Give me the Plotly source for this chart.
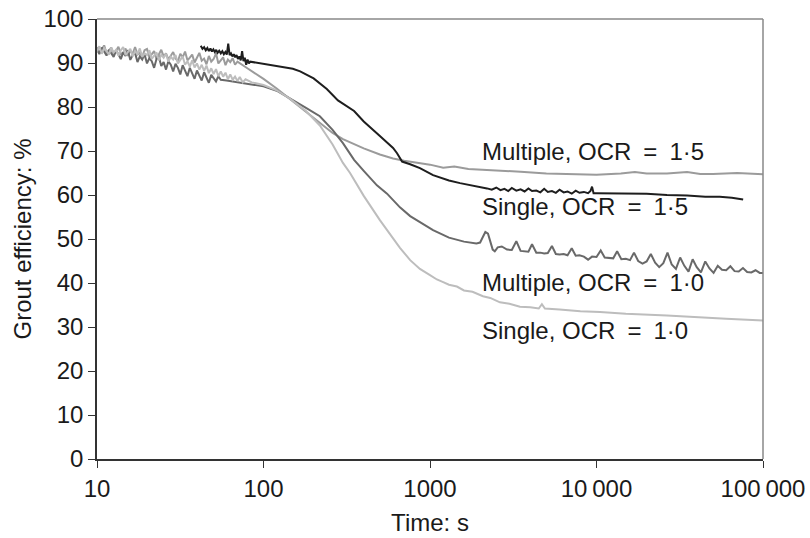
import numpy as np
import plotly.graph_objects as go

# ---------------- data ----------------
# shared sampling times of the noisy early-time part (s)
noise_t = [10, 10.33, 10.68, 11.04, 11.41, 11.79, 12.18, 12.59, 13.01, 13.45, 13.9, 14.36,
           14.84, 15.34, 15.85, 16.38, 16.93, 17.5, 18.08, 18.69, 19.31, 19.96, 20.63, 21.32,
           22.03, 22.77, 23.53, 24.32, 25.13, 25.97, 26.84, 27.74, 28.67, 29.63, 30.62, 31.64,
           32.7, 33.8, 34.93, 36.1, 37.3, 38.55, 39.84, 41.18, 42.55, 43.98, 45.45, 46.97,
           48.54, 50.17, 51.85, 53.58, 55.37, 57.23, 59.14, 61.12, 63.16, 65.28, 67.46, 69.72]

# Multiple, OCR = 1.5 (mid grey)
mult15_noise_v = [93.6, 92.4, 93.1, 94.0, 92.2, 92.9, 93.5, 91.8, 92.6, 93.7,
                  92.0, 92.4, 93.3, 91.6, 92.8, 92.1, 93.6, 91.9, 92.3, 91.4,
                  92.9, 93.2, 91.3, 92.0, 92.7, 90.9, 91.8, 93.0, 91.5, 92.2,
                  90.8, 91.7, 92.5, 91.0, 90.4, 92.1, 91.3, 92.6, 90.6, 91.2,
                  91.9, 90.1, 91.4, 92.3, 90.5, 91.0, 89.7, 91.6, 90.3, 90.9,
                  92.2, 89.9, 90.6, 91.3, 89.5, 90.8, 90.2, 91.1, 89.6, 90.3]
mult15_t = [80, 90, 100, 120, 150, 180, 218, 260, 300, 331, 400, 500, 600, 700, 850, 1000,
            1200, 1400, 1700, 2000, 2630, 3500, 5000, 7000, 10000, 14000, 17000, 20000, 26500,
            35000, 42000, 50000, 70000, 100000]
mult15_v = [88.8, 87.6, 86.4, 84.2, 81.3, 78.9, 76.5, 74.1, 72.7, 72.0, 70.6, 69.2, 68.3,
            67.8, 67.3, 66.9, 66.2, 66.5, 65.9, 65.8, 65.6, 65.3, 64.9, 64.7, 64.6, 64.9, 65.2,
            64.9, 64.9, 65.2, 64.8, 64.8, 65.0, 64.7]

# Single, OCR = 1.5 (black)
sing15_t = [42, 43, 44, 45, 46, 47, 48, 49, 50, 51, 52, 53, 54.2, 55.4, 56.6, 57.8, 59, 60.2,
            61.4, 62.6, 63.8, 65, 66.3, 67.6, 68.9, 70.2, 71.6, 73, 74.4, 75.8, 77.2, 78.7,
            80.2, 81.7, 83.2,
            100, 125, 150, 166, 200, 240, 280, 350, 400, 500, 600, 634, 680, 760, 870, 1043,
            1300, 1515, 2080,
            2200, 2350, 2500, 2650, 2800, 2950, 3100, 3300, 3500, 3700, 3900, 4100, 4350, 4600,
            4850, 5100, 5400, 5700, 6000, 6350, 6700, 7100, 7500, 7900, 8400, 8900, 9200, 9400,
            9600,
            10000, 12000, 15000, 20000, 26500, 35000, 45000, 55000, 65000, 76000]
sing15_v = [93.9, 93.2, 93.6, 92.9, 93.4, 92.7, 93.3, 92.6, 93.1, 92.5,
            93.0, 92.3, 92.8, 92.2, 92.7, 92.0, 92.5, 91.9, 94.4, 91.8,
            92.2, 91.5, 92.0, 91.3, 91.8, 90.9, 91.5, 90.6, 92.7, 90.4,
            91.2, 89.6, 90.8, 89.9, 90.3,
            89.8, 89.3, 88.7, 88.1, 86.5, 84.1, 81.5, 79.1, 76.7, 73.4, 70.7, 69.5, 67.6, 67.0,
            66.1, 64.5, 63.3, 62.7, 61.8,
            61.5, 61.2, 61.7, 61.1, 61.4, 60.9, 61.6, 61.0, 61.3, 60.8, 61.5, 60.9, 61.0, 60.6,
            61.4, 60.7, 60.9, 60.5, 61.2, 60.6, 60.8, 60.3, 61.0, 60.5, 60.7, 60.4, 60.9, 61.9,
            60.4,
            60.4, 60.4, 60.4, 60.3, 60.0, 59.9, 59.6, 59.6, 59.4, 59.0]

# Multiple, OCR = 1.0 (dark grey)
mult10_noise_v = [93.2, 92.0, 93.5, 92.6, 91.7, 93.0, 92.3, 91.4, 92.8, 92.0,
                  90.9, 92.4, 91.6, 92.9, 90.7, 91.8, 92.3, 90.2, 91.5, 90.8,
                  92.0, 89.9, 91.1, 90.4, 88.9, 90.9, 91.4, 89.3, 90.2, 88.5,
                  90.4, 89.6, 88.1, 89.8, 88.9, 87.4, 89.5, 88.4, 87.0, 88.9,
                  87.6, 86.4, 88.3, 87.1, 86.0, 87.9, 86.6, 85.5, 87.3, 86.4,
                  85.8, 87.0, 86.2]
mult10_t = [60, 70, 85, 100, 120, 144, 180, 218, 260, 300, 350, 400, 480, 552, 660, 760, 870,
            1043, 1300, 1600, 1900, 2000, 2080, 2150, 2230, 2300, 2380, 2450, 2550, 2700,
            2900, 3100, 3300, 3500, 3700, 3900, 4100, 4350, 4600, 4850, 5100, 5400, 5700,
            6000, 6350, 6700, 7100, 7500, 7900, 8400, 8900, 9400, 10000, 10600, 11200, 11900,
            12600, 13300, 14100, 15000, 15900, 16800, 17800, 18900, 20000, 21200, 22500,
            23800, 25200, 26700, 28300, 30000, 31800, 33700, 35700, 37800, 40000, 42400,
            45000, 47700, 50500, 53500, 56700, 60100, 63700, 67500, 71500, 75800, 80300,
            85100, 90200, 95600, 100000]
mult10_v = [86.0, 85.6, 85.1, 84.7, 83.7, 82.0, 79.8, 77.9, 74.8, 71.8, 68.0, 65.5, 62.2,
            60.3, 57.2, 55.2, 53.8, 52.0, 50.3, 49.4, 49.0, 49.2, 50.5, 51.6, 51.2, 49.4, 47.6,
            47.2, 48.1, 48.3,
            47.6, 47.5, 49.5, 47.3, 47.2, 47.1, 48.8, 46.9, 46.9, 46.7, 46.8, 48.4, 46.6,
            46.5, 46.6, 46.3, 47.9, 46.2, 46.3, 46.0, 45.3, 46.0, 45.9, 47.4, 45.8, 45.7,
            45.6, 47.2, 45.4, 45.5, 45.2, 46.9, 45.0, 44.4, 44.9, 46.6, 44.6,
            43.6, 44.5, 46.9, 44.2, 43.2, 45.8, 43.9, 42.6, 45.4, 43.6, 42.4,
            44.9, 43.3, 42.3, 43.9, 43.0, 42.9, 43.8, 42.7, 42.6, 43.4, 42.5,
            42.4, 42.9, 42.3, 42.3]

# Single, OCR = 1.0 (light grey)
sing10_noise_v = [92.6, 93.8, 92.1, 93.4, 92.7, 91.9, 93.5, 92.4, 93.0, 91.7,
                  92.9, 93.6, 91.8, 92.5, 93.2, 91.5, 92.7, 92.0, 93.3, 91.4,
                  92.2, 91.8, 92.9, 90.9, 91.7, 92.4, 90.6, 91.9, 91.2, 92.1,
                  90.3, 91.4, 90.8, 91.8, 89.9, 90.7, 91.5, 89.6, 90.4, 89.2,
                  90.6, 89.0, 89.9, 88.5, 89.6, 88.2, 89.4, 87.7, 88.8, 87.5,
                  88.6, 87.0, 88.1, 86.9, 87.8, 86.3, 87.4, 86.2, 86.9, 85.9]
sing10_t = [72, 75, 78, 85, 100, 120, 144, 180, 218, 260, 300, 331, 400, 500, 580, 660, 760,
            870, 1000, 1100, 1200, 1300, 1450, 1600, 1800, 2080, 2300, 2630, 3000, 3470, 4000,
            4500, 4700, 4900, 6000, 8000, 10500, 15000, 26500, 40000, 60000, 100000]
sing10_v = [86.8, 85.6, 86.3, 85.6, 85.0, 83.8, 81.9, 79.1, 75.8, 71.5, 67.3, 65.0, 59.8,
            54.3, 50.9, 48.0, 45.2, 43.2, 41.8, 40.8, 40.2, 39.6, 39.2, 38.3, 38.0, 37.0, 36.6,
            35.6, 35.3, 34.6, 34.5, 34.2, 35.2, 34.2, 34.0, 33.6, 33.4, 33.0, 32.6, 32.2, 31.9,
            31.5]

labels = ["Multiple, OCR\u2002=\u20021·5", "Single, OCR\u2002=\u20021·5",
          "Multiple, OCR\u2002=\u20021·0", "Single, OCR\u2002=\u20021·0"]
label_t = [2000, 2000, 2000, 2000]
label_y = [70.0, 57.5, 40.2, 29.3]

x_tickvals = [10, 100, 1000, 10000, 100000]
x_ticktext = ["10", "100", "1000", "10\u2009000", "100\u2009000"]
y_tickvals = [0, 10, 20, 30, 40, 50, 60, 70, 80, 90, 100]

# ---------------- figure ----------------
FONT = "Liberation Sans, Arial, sans-serif"
FS = 24
TXT = "#1a1a1a"
fig = go.Figure()
series = [
    (noise_t + mult15_t, mult15_noise_v + mult15_v, "#9b9b9b"),
    (noise_t[:len(mult10_noise_v)] + mult10_t, mult10_noise_v + mult10_v, "#696969"),
    (noise_t + sing10_t, sing10_noise_v + sing10_v, "#bdbdbd"),
    (sing15_t, sing15_v, "#1e1e1e"),
]
for t, v, c in series:
    fig.add_trace(go.Scatter(x=t, y=v, mode="lines",
                             line=dict(color=c, width=2), showlegend=False,
                             hoverinfo="skip"))

for txt, t, y in zip(labels, label_t, label_y):
    fig.add_annotation(x=np.log10(t), y=y, xref="x", yref="y", text=txt,
                       showarrow=False, xanchor="left", yanchor="middle",
                       font=dict(family=FONT, size=FS, color=TXT))

# top and right frame lines (grey)
fig.add_shape(type="line", xref="paper", yref="paper", x0=0, x1=1, y0=1, y1=1,
              line=dict(color="#888888", width=1.5))
fig.add_shape(type="line", xref="paper", yref="paper", x0=1, x1=1, y0=0, y1=1,
              line=dict(color="#888888", width=1.5))

fig.update_layout(
    width=810, height=538,
    margin=dict(l=97, r=47, t=19, b=79),
    paper_bgcolor="white", plot_bgcolor="white",
    font=dict(family=FONT, size=FS, color=TXT),
    xaxis=dict(type="log", range=[1, 5], tickvals=x_tickvals, ticktext=x_ticktext,
               automargin=False,
               showgrid=False, zeroline=False, showline=True, linecolor="#333333",
               linewidth=1.5, ticks="outside", ticklen=7, tickcolor="#333333",
               tickfont=dict(family=FONT, size=FS, color=TXT),
               title=dict(text="Time: s", standoff=14,
                          font=dict(family=FONT, size=FS, color=TXT))),
    yaxis=dict(range=[0, 100], tickvals=y_tickvals, showgrid=False, zeroline=False,
               automargin=False,
               showline=True, linecolor="#333333", linewidth=1.5, ticks="outside",
               ticklen=7, tickcolor="#333333",
               tickfont=dict(family=FONT, size=FS, color=TXT),
               title=dict(text="Grout efficiency: %", standoff=5,
                          font=dict(family=FONT, size=FS, color=TXT))),
)

fig.write_html("out.html")
